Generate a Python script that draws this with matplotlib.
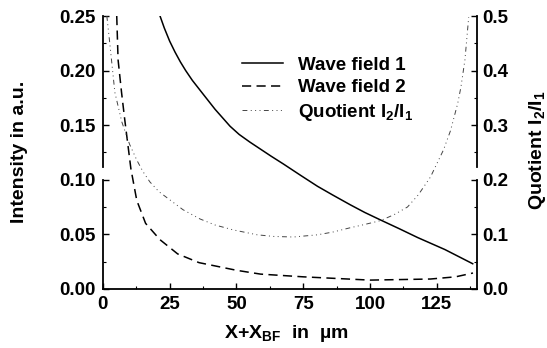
import matplotlib.pyplot as plt
from matplotlib.lines import Line2D

plt.rcParams['font.family'] = 'Liberation Sans'
plt.rcParams['mathtext.default'] = 'regular'

# values
x_wave1 = [21.4, 23, 25, 27, 29, 31, 33.5, 37.5, 42, 47.6, 51, 55, 59, 63, 67.5, 74, 80.3, 86, 92.6, 98, 104, 111, 117.8, 128, 138.4]
y_wave1 = [0.25, 0.239, 0.227, 0.217, 0.208, 0.200, 0.191, 0.1785, 0.1645, 0.149, 0.1415, 0.1345, 0.128, 0.1215, 0.1145, 0.104, 0.094, 0.086, 0.077, 0.070, 0.063, 0.055, 0.047, 0.036, 0.023]

x_wave2 = [5.2, 5.7, 7.0, 8.2, 10.5, 12.7, 16, 21.4, 28, 36, 50, 59, 75, 100, 122.6, 132, 138.5]
y_wave2 = [0.25, 0.21, 0.18, 0.155, 0.11, 0.081, 0.06, 0.045, 0.032, 0.024, 0.017, 0.0135, 0.011, 0.008, 0.009, 0.011, 0.0145]

x_quot = [1.5, 2.6, 4.5, 7.1, 10, 12.7, 15, 17.6, 21, 25.1, 30, 36.4, 42, 48.8, 57.8, 64, 71.3, 80.3, 86, 92.6, 98, 103.9, 109, 114, 118, 122.6, 127.5, 130.1, 132.8, 134, 135.5, 136.9]
y_quot = [0.5, 0.45, 0.36, 0.306, 0.265, 0.236, 0.215, 0.196, 0.178, 0.163, 0.145, 0.128, 0.117, 0.108, 0.099, 0.096, 0.095, 0.099, 0.104, 0.112, 0.118, 0.125, 0.136, 0.150, 0.172, 0.205, 0.255, 0.29, 0.34, 0.37, 0.42, 0.498]

xticks = [0, 25, 50, 75, 100, 125]

fig = plt.figure(figsize=(5.47, 3.48), dpi=100)
ax = fig.add_axes([0.188, 0.170, 0.684, 0.784])
ax2 = ax.twinx()

l1, = ax.plot(x_wave1, y_wave1, color='black', lw=1.1, label='Wave field 1')
l2, = ax.plot(x_wave2, y_wave2, color='black', lw=1.1, linestyle=(0, (6, 3.5)), label='Wave field 2')
l3, = ax2.plot(x_quot, y_quot, color='#444444', lw=0.7,
               linestyle=(0, (5, 3.5, 1, 3.5, 1, 3.5, 1, 3.5)), label='Quotient I$_2$/I$_1$')

ax.set_xlim(0, 140)
ax.set_ylim(0, 0.25)
ax2.set_ylim(0, 0.5)

ax.set_xticks(xticks)
ax.set_xticks([12.5, 37.5, 62.5, 87.5, 112.5, 137.5], minor=True)
ax.set_yticks([0, 0.05, 0.10, 0.15, 0.20, 0.25])
ax.set_yticklabels(['0.00', '0.05', '0.10', '0.15', '0.20', '0.25'])
ax.set_yticks([0.025, 0.075, 0.125, 0.175, 0.225], minor=True)
ax2.set_yticks([0, 0.1, 0.2, 0.3, 0.4, 0.5])
ax2.set_yticklabels(['0.0', '0.1', '0.2', '0.3', '0.4', '0.5'])
ax2.set_yticks([0.05, 0.15, 0.25, 0.35, 0.45], minor=True)

for a in (ax, ax2):
    for s in ['top', 'left', 'right']:
        a.spines[s].set_visible(False)
    a.tick_params(which='major', direction='in', length=4, width=1, labelsize=13.5)
    a.tick_params(which='minor', direction='in', length=2.5, width=0.8)
    for lab in a.get_xticklabels() + a.get_yticklabels():
        lab.set_fontweight('bold')
ax2.spines['bottom'].set_visible(False)
ax.spines['bottom'].set_linewidth(1.3)
ax.tick_params(axis='x', pad=5)
ax.tick_params(axis='y', pad=5.5)
ax2.tick_params(axis='y', pad=4)

# broken side spines (gap just above 0.10 / 0.2)
for xs in (0, 1):
    ax.add_line(Line2D([xs, xs], [0, 0.4], transform=ax.transAxes, color='black', lw=1.3, clip_on=False))
    ax.add_line(Line2D([xs, xs], [0.447, 1], transform=ax.transAxes, color='black', lw=1.3, clip_on=False))

# axis titles
fig.text(286 / 547, 1 - 333 / 348, 'X+X$_{BF}$  in  µm', fontsize=14, fontweight='bold',
         ha='center', va='center')
fig.text(20 / 547, 1 - 152 / 348, 'Intensity in a.u.', fontsize=14, fontweight='bold',
         ha='center', va='center', rotation=90)
fig.text(537 / 547, 1 - 150 / 348, 'Quotient I$_2$/I$_1$', fontsize=14, fontweight='bold',
         ha='center', va='center', rotation=90)

fig.legend(handles=[l1, l2, l3], loc='upper left', bbox_to_anchor=(0.442, 0.838),
           frameon=False, borderpad=0, borderaxespad=0, handlelength=2.2,
           handletextpad=0.8, labelspacing=0.3, prop={'size': 13.5, 'weight': 'bold'})

plt.savefig('out.png', dpi=100)
